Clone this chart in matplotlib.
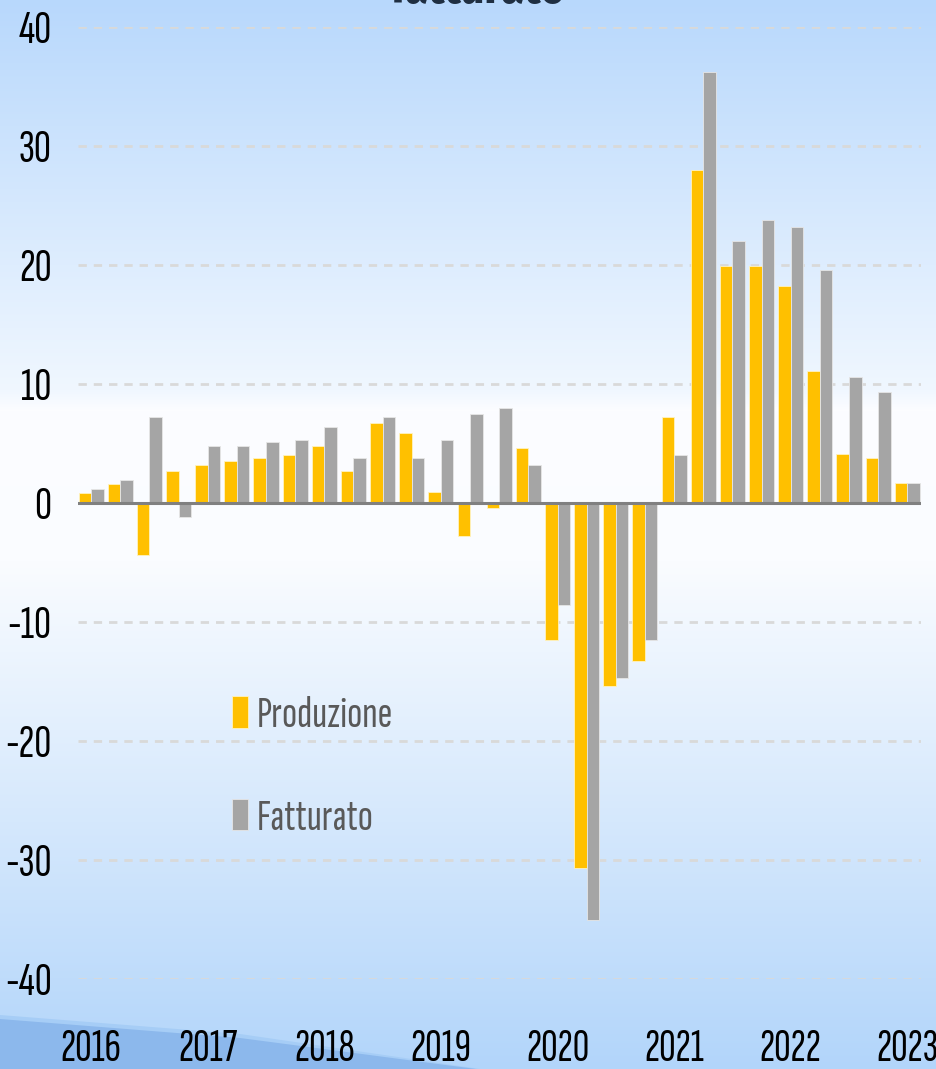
import matplotlib.pyplot as plt
import numpy as np
from matplotlib.patches import Polygon

# dati trimestrali 2016 Q1 - 2023 Q1 (var. % tendenziali)
anni = ['2016', '2017', '2018', '2019', '2020', '2021', '2022', '2023']
produzione = [0.8, 1.6, -4.4, 2.7, 3.2, 3.5, 3.8, 4.0, 4.8, 2.7, 6.7, 5.9, 0.9, -2.8, -0.4,
              4.6, -11.5, -30.7, -15.4, -13.3, 7.2, 28.0, 19.9, 19.9, 18.2, 11.1, 4.1, 3.8, 1.7]
fatturato = [1.2, 1.9, 7.2, -1.2, 4.8, 4.8, 5.1, 5.3, 6.4, 3.8, 7.2, 3.8, 5.3, 7.5, 8.0,
             3.2, -8.6, -35.0, -14.7, -11.5, 4.0, 36.2, 22.0, 23.8, 23.2, 19.6, 10.6, 9.3, 1.7]

fnt = 'Sofia Sans Extra Condensed'
plt.rcParams['font.family'] = [fnt, 'DejaVu Sans']
plt.rcParams['axes.unicode_minus'] = False

W, H = 937, 1069
fig = plt.figure(figsize=(W / 100, H / 100), dpi=100)

# sfondo sfumato azzurro-bianco-azzurro
bg = fig.add_axes([0, 0, 1, 1], zorder=-10)
ys = np.arange(H)
stops_y = [0, 390, 410, 560, 1069]
stops_c = np.array([[184, 216, 252], [240, 247, 255], [252, 253, 255], [250, 252, 255], [178, 213, 250]]) / 255
grad = np.stack([np.interp(ys, stops_y, stops_c[:, k]) for k in range(3)], axis=1)
img = np.repeat(grad[:, None, :], 2, axis=1)
bg.imshow(img, aspect='auto', extent=[0, W, H, 0])
bg.add_patch(Polygon([[0, 1015], [240, 1034], [480, H], [0, H]], closed=True, color='#a6cdf6', lw=0))
bg.add_patch(Polygon([[0, 1019], [240, 1038], [476, H], [0, H]], closed=True, color='#8cb8ec', lw=0))
bg.set_xlim(0, W)
bg.set_ylim(H, 0)
bg.axis('off')

ax = fig.add_axes([78 / W, 1 - 979 / H, (921 - 78) / W, (979 - 27) / H])
ax.patch.set_alpha(0)
x = np.arange(len(produzione))
bw = 0.43
ax.bar(x - bw / 2, produzione, bw, color='#FFC000', edgecolor='#fff3c0', linewidth=0.6, label='Produzione', zorder=3)
ax.bar(x + bw / 2, fatturato, bw, color='#A5A5A5', edgecolor='#e6e6e6', linewidth=0.6, label='Fatturato', zorder=3)
ax.axhline(0, color='#808080', lw=2.2, zorder=4)

ax.set_xlim(-0.45, 28.47)
ax.set_ylim(-40, 40)
ax.set_yticks(np.arange(-40, 41, 10))
for v in np.arange(-40, 41, 10):
    if v != 0:
        ax.axhline(v, color='#d9d9d9', lw=2, ls=(0, (3, 2.5)), zorder=1)
ax.set_xticks(np.arange(0, len(produzione), 4))
ax.set_xticklabels(anni)
for s in ax.spines.values():
    s.set_visible(False)
ax.tick_params(length=0)
ax.tick_params(axis='y', pad=19, labelsize=34)
ax.tick_params(axis='x', pad=36, labelsize=33)

leg = ax.legend(loc='center left', bbox_to_anchor=(232 / W, 1 - 767 / H), bbox_transform=fig.transFigure,
                frameon=False, prop={'family': fnt, 'size': 32}, handlelength=0.36, handleheight=0.72,
                handletextpad=0.2, labelspacing=1.42, borderpad=0, borderaxespad=0)
for t in leg.get_texts():
    t.set_color('#595959')

fig.text(478 / W, 1 - 3 / H, 'fatturato', ha='center', va='baseline', fontsize=36,
         fontweight='bold', color='#1f2f42', family=['Fira Sans Extra Condensed', 'DejaVu Sans'])

fig.savefig('out.png', dpi=100)
